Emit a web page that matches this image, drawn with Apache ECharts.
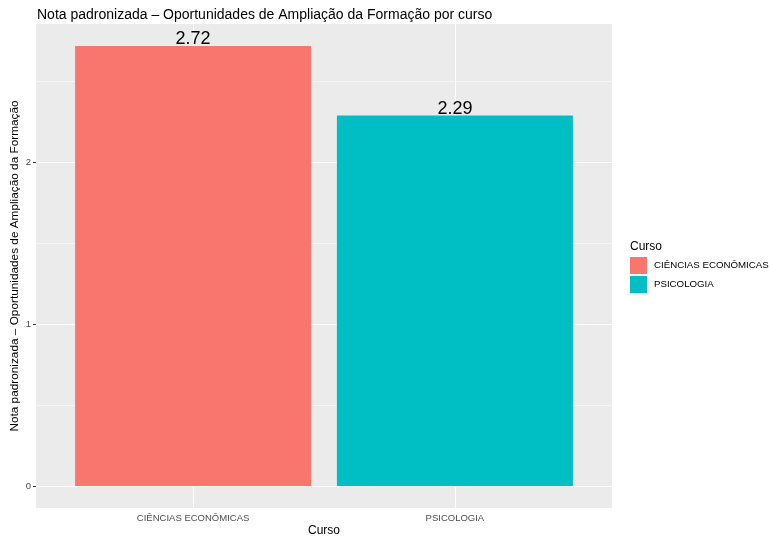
<!DOCTYPE html>
<html><head><meta charset="utf-8">
<script src="https://cdn.jsdelivr.net/npm/echarts@6/dist/echarts.min.js"></script>
<style>html,body{margin:0;padding:0;background:#fff}#c{width:769px;height:536px}</style>
</head><body><div id="c"></div>
<script>
const categories = ['CIÊNCIAS ECONÔMICAS', 'PSICOLOGIA'];
const values = [2.72, 2.29];
const yTicks = [0, 1, 2];
const yMinor = [0.5, 1.5, 2.5];
const colors = ['#F8766D', '#00BFC4'];

const FONT = 'Liberation Sans, Arial, Helvetica, sans-serif';
const yMaxData = Math.max(...values);
const pad = 0.05 * yMaxData;
const xTicks = categories.map((c, i) => i + 1);

const chart = echarts.init(document.getElementById('c'), null, {renderer: 'canvas'});

const gridLines = [];
yTicks.forEach(v => gridLines.push({yAxis: v, lineStyle: {color: '#fff', width: 1.1, type: 'solid'}}));
yMinor.forEach(v => gridLines.push({yAxis: v, lineStyle: {color: '#fff', width: 0.5, type: 'solid'}}));
xTicks.forEach(v => gridLines.push({xAxis: v, lineStyle: {color: '#fff', width: 1.1, type: 'solid'}}));

const series = categories.map((c, i) => ({
  type: 'bar',
  name: c,
  data: [[i + 1, values[i]]],
  barWidth: 236,
  barGap: '-100%',
  z: 3,
  itemStyle: {color: colors[i]},
  label: {
    show: true, position: 'top', distance: -2,
    color: '#000', fontSize: 18, fontFamily: FONT,
    formatter: p => p.value[1].toFixed(2)
  }
}));
series.push({
  type: 'line', name: '_grid', data: [], silent: true, z: 1,
  markLine: {silent: true, symbol: 'none', z: 1, label: {show: false}, animation: false, data: gridLines}
});

chart.setOption({
  animation: false,
  textStyle: {fontFamily: FONT},
  title: [
    {text: 'Nota padronizada – Oportunidades de Ampliação da Formação por curso', left: 32, top: 3,
     textStyle: {fontSize: 14, fontWeight: 'normal', color: '#000', fontFamily: FONT}},
    {text: 'Curso', left: 625, top: 236, textStyle: {fontSize: 12, fontWeight: 'normal', color: '#000', fontFamily: FONT}}
  ],
  legend: {
    data: categories, orient: 'vertical', left: 630, top: 257, padding: 0,
    icon: 'rect', itemWidth: 17, itemHeight: 17, itemGap: 2,
    textStyle: {fontSize: 9.7, color: '#000', fontFamily: FONT, padding: [0, 0, 0, 2]},
    selectedMode: false
  },
  grid: {left: 36, right: 157, top: 24, bottom: 28, show: true, backgroundColor: '#EBEBEB', borderWidth: 0, containLabel: false, outerBoundsMode: 'none'},
  xAxis: {
    type: 'value', min: 0.4, max: categories.length + 0.6,
    axisLine: {show: false},
    splitLine: {show: false},
    axisTick: {show: true, customValues: xTicks, length: 3, lineStyle: {color: '#333', width: 1}},
    axisLabel: {customValues: xTicks, formatter: v => categories[Math.round(v) - 1] || '', color: '#4D4D4D', fontSize: 9.5, margin: 5, fontFamily: FONT},
    name: 'Curso', nameLocation: 'middle', nameGap: 17, nameMoveOverlap: false,
    nameTextStyle: {fontSize: 12, color: '#000', fontFamily: FONT, verticalAlign: 'top'}
  },
  yAxis: {
    type: 'value', min: -pad, max: yMaxData + pad,
    axisLine: {show: false},
    splitLine: {show: false},
    axisTick: {show: true, customValues: yTicks, length: 3, lineStyle: {color: '#333', width: 1}},
    axisLabel: {customValues: yTicks, color: '#4D4D4D', fontSize: 9.5, margin: 5, fontFamily: FONT},
    name: 'Nota padronizada – Oportunidades de Ampliação da Formação', nameLocation: 'middle', nameGap: 15, nameMoveOverlap: false,
    nameTextStyle: {fontSize: 11.8, color: '#000', fontFamily: FONT}
  },
  series: series
});
</script></body></html>
